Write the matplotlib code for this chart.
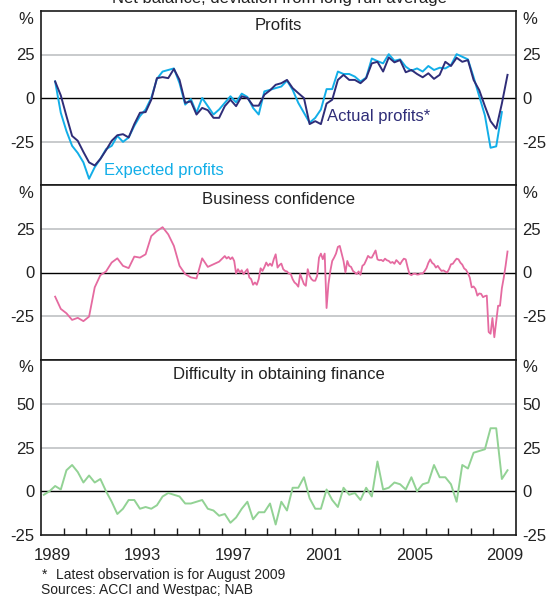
import numpy as np
import matplotlib.pyplot as plt

plt.rcParams['font.family'] = ['Liberation Sans', 'DejaVu Sans']

# ---------------- data ----------------
# Profits: quarterly, net balance (deviation from long-run average), from Q3 1989
profits_first_quarter = 1989.625
actual_profits = [
    9.5, 1.5, -10.4, -21.8, -24.6, -31.0, -37.0, -38.8, -35.0, -30.0,
    -24.6, -21.4, -20.8, -22.7, -15.0, -8.5, -8.1, -1.0, 11.4, 12.0,
    11.4, 16.7, 10.4, -2.8, -1.9, -9.5, -5.7, -7.0, -11.4, -11.4,
    -4.7, -1.0, -4.7, 1.0, 0.0, -4.4, -4.4, 1.9, 4.4, 7.6,
    8.5, 10.4, 5.7, 2.8, 0.0, -15.0, -13.3, -15.0, -3.2, -1.0,
    10.4, 13.3, 10.4, 10.4, 8.5, 11.4, 19.9, 20.8, 15.2, 23.3,
    20.5, 21.8, 14.8, 16.1, 13.8, 11.9, 14.2, 11.0, 13.3, 20.8,
    18.4, 23.1, 20.8, 21.8, 10.4, 4.5, -4.7, -13.3, -17.6, -3.2,
    13.3,
]
expected_profits = [
    9.5, -8.5, -19.0, -27.5, -31.6, -37.0, -46.4, -39.8, -35.0, -29.4,
    -27.5, -21.8, -25.2, -22.7, -16.0, -10.4, -6.6, 0.0, 11.0, 15.2,
    16.1, 17.0, 8.5, -3.8, -0.6, -8.5, 0.0, -4.7, -9.5, -6.6,
    -2.8, 1.0, -2.5, 2.5, 0.6, -5.7, -9.5, 3.8, 4.7, 5.7,
    6.6, 10.0, 4.7, -2.8, -8.5, -14.2, -11.4, -6.6, 5.1, 5.1,
    15.2, 13.8, 13.8, 12.3, 9.5, 11.7, 22.7, 21.2, 19.9, 25.2,
    21.4, 22.2, 18.0, 15.7, 17.0, 15.2, 18.4, 16.1, 17.4, 17.0,
    18.9, 25.2, 23.7, 22.2, 12.0, 1.0, -10.0, -28.6, -27.8, -8.1,
]

# Business confidence: quarterly to early 1997, monthly from March 1997 to August 2009
confidence_first_quarter = 1989.625
confidence_quarterly = [
    -13.8, -20.8, -23.3, -27.1, -25.9, -27.8, -25.2, -8.5, -1.5, 0.6,
    5.7, 8.1, 3.8, 2.5, 9.1, 8.5, 10.4, 20.8, 23.7, 25.9,
    21.8, 15.2, 3.8, -0.9, -2.8, -3.4, 8.1, 3.2, 4.7, 6.2,
    9.4,
]
confidence_first_month = (1997, 3)
confidence_monthly = [
    8.0, 8.9, 7.6, 8.7, 6.6, -0.6, 1.9, 0.0, 1.3, -1.0,
    0.6, 1.9, -2.8, -3.8, -7.0, -5.7, -7.0, -3.8, 2.4,
    0.9, 3.0, 5.7, 3.8, 5.1, 3.8, 7.6, 10.4, 2.8, 4.2,
    5.1, 1.9, 0.9, 0.6, -0.6, -0.9, -3.8, -5.7, -6.6, -8.1,
    -0.9, -3.8, -6.6, -7.6, 1.9, -1.9, -3.8, -4.7, -4.7, -1.9,
    8.5, 10.8, 7.6, 10.8, -20.3, -6.6, 0.9, 6.6, 8.5, 10.8,
    14.6, 15.2, 10.8, 6.6, 0.0, 6.6, 3.8, 3.2, 0.9, 0.0,
    -0.9, 0.6, -1.3, 3.8, 4.7, 7.0, 9.5, 8.5,
    8.5, 10.5, 12.6, 7.5, 7.0, 7.2, 6.5, 7.9, 7.0, 6.6,
    5.5, 6.0, 5.0, 7.1, 6.0, 4.7, 6.5, 7.9, 7.5, 3.0,
    -0.9, -1.5, -0.8, -0.6, -1.2, -1.1, -0.5, -0.6, 0.8, 2.5,
    5.5, 7.5, 5.5, 4.7, 2.8, 3.8, 2.2, 0.9, 1.2, 0.5,
    0.0, 2.0, 4.7, 5.0, 6.6, 7.9, 7.5, 5.6, 4.5, 2.3,
    1.5, -0.4, -3.0, -8.5, -8.0, -9.4, -13.2, -12.0, -12.2, -14.1,
    -13.5, -13.2, -34.0, -35.0, -26.0, -37.0, -28.0, -19.0, -19.0, -9.0,
    -3.0, 4.0, 12.0,
]

# Difficulty in obtaining finance: quarterly from Q1 1989
finance_first_quarter = 1989.125
finance_difficulty = [
    -2.0, 0.0, 3.0, 1.0, 12.0, 15.0, 11.0, 5.0, 9.0, 5.0,
    7.0, 0.0, -6.0, -13.0, -10.0, -5.0, -5.0, -10.0, -9.0, -10.0,
    -8.0, -3.0, -1.0, -2.0, -3.0, -7.0, -7.0, -6.0, -5.0, -10.0,
    -11.0, -14.0, -13.0, -18.0, -15.0, -10.0, -6.0, -16.0, -12.0, -12.0,
    -7.0, -19.0, -6.0, -11.0, 2.0, 2.0, 8.0, -4.0, -10.0, -10.0,
    1.0, -5.0, -9.0, 2.0, -2.0, -1.0, -5.0, 2.0, -3.0, 17.0,
    1.0, 2.0, 5.0, 4.0, 1.0, 8.0, 0.0, 4.0, 5.0, 15.0,
    8.0, 8.0, 4.0, -6.0, 15.0, 13.0, 22.0, 23.0, 24.0, 36.0,
    36.0, 7.0, 12.0,
]

year_labels = ['1989', '1993', '1997', '2001', '2005', '2009']

# ---------------- x positions ----------------
x_actual = profits_first_quarter + 0.25 * np.arange(len(actual_profits))
x_expected = profits_first_quarter + 0.25 * np.arange(len(expected_profits))
x_conf_q = confidence_first_quarter + 0.25 * np.arange(len(confidence_quarterly))
y0, m0 = confidence_first_month
x_conf_m = y0 + (m0 - 0.5 + np.arange(len(confidence_monthly))) / 12.0
x_conf = np.concatenate([x_conf_q, x_conf_m])
conf = np.concatenate([confidence_quarterly, confidence_monthly])
x_fin = finance_first_quarter + 0.25 * np.arange(len(finance_difficulty))

# ---------------- styling ----------------
NAVY = '#2f2d78'
CYAN = '#12aee8'
PINK = '#e56aa0'
GREEN = '#92d294'
GRID = '#c4c6c8'
TEXT = '#222222'
FS = 12

W, H = 548, 596
fig = plt.figure(figsize=(W / 100, H / 100), dpi=100)

left_px, right_px = 41, 516
panels_px = [(11, 185), (185, 360), (360, 535)]
axes = []
for top, bot in panels_px:
    ax = fig.add_axes([left_px / W, 1 - bot / H, (right_px - left_px) / W, (bot - top) / H])
    axes.append(ax)

ax1, ax2, ax3 = axes

ax1.plot(x_expected, expected_profits, color=CYAN, lw=1.4, zorder=3)
ax1.plot(x_actual, actual_profits, color=NAVY, lw=1.4, zorder=4)
ax2.plot(x_conf, conf, color=PINK, lw=1.3, zorder=3)
ax3.plot(x_fin, finance_difficulty, color=GREEN, lw=1.4, zorder=3)

limits = [(-50, 50), (-50, 50), (-25, 75)]
ticks = [[-25, 0, 25], [-25, 0, 25], [-25, 0, 25, 50]]
titles = ['Profits', 'Business confidence', 'Difficulty in obtaining finance']

for ax, lim, tks, title in zip(axes, limits, ticks, titles):
    ax.set_xlim(1989.0, 2010.0)
    ax.set_ylim(*lim)
    ax.set_yticks(tks)
    ax.set_yticklabels([str(t) for t in tks])
    ax.tick_params(axis='y', length=0, labelsize=FS, labelcolor=TEXT,
                   labelleft=True, labelright=True, pad=4.5)
    for t in tks:
        if t != 0 and t != lim[0]:
            ax.axhline(t, color=GRID, lw=1.3, zorder=1)
    ax.axhline(0, color='black', lw=1.0, zorder=2)
    for sp in ax.spines.values():
        sp.set_color('#1a1a1a')
        sp.set_linewidth(1.2)
    ax.text(0.5, 1 - 15 / (ax.bbox.height), title, transform=ax.transAxes,
            ha='center', va='center', fontsize=FS, color=TEXT)
    ax.annotate('%', xy=(0, 1), xycoords='axes fraction', xytext=(-15, -8),
                textcoords='offset pixels', ha='center', va='center',
                fontsize=FS, color=TEXT)
    ax.annotate('%', xy=(1, 1), xycoords='axes fraction', xytext=(14, -8),
                textcoords='offset pixels', ha='center', va='center',
                fontsize=FS, color=TEXT)

for ax in (ax1, ax2):
    ax.set_xticks([])

# Bottom axis: year-boundary ticks inside, labels centred mid-year
ax3.set_xticks(np.arange(1990, 2010))
ax3.set_xticklabels([])
ax3.tick_params(axis='x', which='major', direction='in', length=5,
                width=1.0, color='#1a1a1a', top=False)
ax3.set_xticks([int(y) + 0.5 for y in year_labels], minor=True)
ax3.set_xticklabels(year_labels, minor=True)
ax3.tick_params(axis='x', which='minor', length=0, pad=9,
                labelsize=FS, labelcolor=TEXT)

# Series labels
ax1.text(1991.8, -41.5, 'Expected profits', color=CYAN, fontsize=FS,
         ha='left', va='center')
ax1.text(2001.65, -10.5, 'Actual profits*', color=NAVY, fontsize=FS,
         ha='left', va='center')

# Heading (partly above the top edge) and footnotes
fig.text(279 / W, 1 - 3 / H, 'Net balance, deviation from long-run average',
         ha='center', va='baseline', fontsize=FS, color=TEXT)
fig.text(42 / W, 1 - 575 / H, '*', ha='left', va='center', fontsize=10, color=TEXT)
fig.text(56 / W, 1 - 575 / H, 'Latest observation is for August 2009',
         ha='left', va='center', fontsize=10, color=TEXT)
fig.text(41 / W, 1 - 590 / H, 'Sources: ACCI and Westpac; NAB',
         ha='left', va='center', fontsize=10, color=TEXT)

fig.savefig('out.png', dpi=100)
